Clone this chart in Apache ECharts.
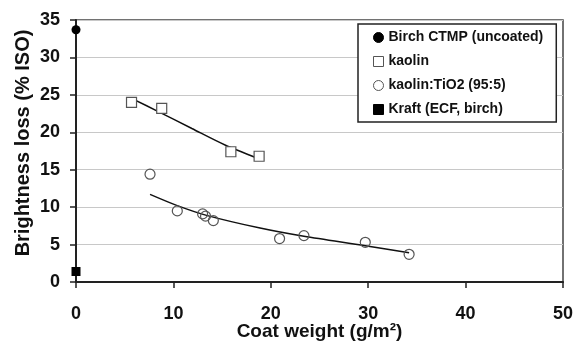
<!DOCTYPE html>
<html lang="en">
<head>
<meta charset="UTF-8">
<title>Brightness loss</title>
<script src="https://cdn.jsdelivr.net/npm/echarts@6/dist/echarts.min.js"></script>
<style>
  html, body { margin: 0; padding: 0; background: #fff; }
</style>
</head>
<body>
<div id="chart" style="width:575px;height:343px;"></div>
<script>
// values
var ctmpX = [0], ctmpY = [33.7];
var kaolinX = [5.7, 8.8, 15.9, 18.8];
var kaolinY = [24.0, 23.2, 17.4, 16.8];
var tio2X = [7.6, 10.4, 13.0, 13.3, 14.1, 20.9, 23.4, 29.7, 34.2];
var tio2Y = [14.4, 9.5, 9.1, 8.8, 8.2, 5.8, 6.2, 5.3, 3.7];
var kraftX = [0], kraftY = [1.4];
// trend curves, points
var kaolinFitX = [5.75, 8.4, 11.9, 15.3, 18.7];
var kaolinFitY = [24.5, 22.8, 20.5, 18.3, 16.5];
var tio2FitX = [7.6, 10.4, 13.4, 18.9, 23.4, 29.7, 34.2];
var tio2FitY = [11.7, 10.2, 8.9, 7.2, 6.1, 4.85, 3.9];
var names = ['Birch CTMP (uncoated)', 'kaolin', 'kaolin:TiO2 (95:5)', 'Kraft (ECF, birch)'];

function pairs(xs, ys) {
  var out = [];
  for (var i = 0; i < xs.length; i++) out.push([xs[i], ys[i]]);
  return out;
}

var font = 'Liberation Sans, Arial, sans-serif';
var chart = echarts.init(document.getElementById('chart'));
chart.setOption({
  animation: false,
  textStyle: { fontFamily: font },
  grid: {
    left: 76, right: 12, top: 20, bottom: 61,
    outerBoundsMode: 'none',
    show: true, borderColor: '#444', borderWidth: 1.5
  },
  legend: {
    data: names,
    orient: 'vertical',
    left: 358, top: 24,
    padding: [5, 13, 4, 15],
    itemGap: 7,
    itemWidth: 10, itemHeight: 10,
    itemStyle: { borderWidth: 1 },
    borderColor: '#222', borderWidth: 1.5,
    backgroundColor: '#fff',
    textStyle: { fontFamily: font, fontSize: 14, fontWeight: 'bold', color: '#111', lineHeight: 17 }
  },
  xAxis: {
    type: 'value', min: 0, max: 50, interval: 10,
    name: 'Coat weight (g/m²)', nameLocation: 'middle', nameGap: 40,
    nameMoveOverlap: false,
    nameTextStyle: { fontFamily: font, fontSize: 19, fontWeight: 'bold', color: '#111' },
    axisLine: { lineStyle: { color: '#222', width: 2 } },
    axisTick: { length: 6, lineStyle: { color: '#222', width: 1.5 } },
    axisLabel: { margin: 23, fontFamily: font, fontSize: 18, fontWeight: 'bold', color: '#111' },
    splitLine: { show: false }
  },
  yAxis: {
    type: 'value', min: 0, max: 35, interval: 5,
    name: 'Brightness loss (% ISO)', nameLocation: 'middle', nameGap: 43,
    nameMoveOverlap: false,
    nameTextStyle: { fontFamily: font, fontSize: 20, fontWeight: 'bold', color: '#111', padding: [0, 0, 0, 16] },
    axisLine: { lineStyle: { color: '#222', width: 2 } },
    axisTick: { length: 6, lineStyle: { color: '#222', width: 1.5 } },
    axisLabel: { margin: 16, fontFamily: font, fontSize: 18, fontWeight: 'bold', color: '#111' },
    splitLine: { lineStyle: { color: '#c8c8c8', width: 1 } }
  },
  series: [
    {
      name: 'kaolin fit', type: 'line', smooth: 0.3, showSymbol: false,
      lineStyle: { color: '#111', width: 1.5 }, z: 1,
      data: pairs(kaolinFitX, kaolinFitY)
    },
    {
      name: 'tio2 fit', type: 'line', smooth: 0.3, showSymbol: false,
      lineStyle: { color: '#111', width: 1.5 }, z: 1,
      data: pairs(tio2FitX, tio2FitY)
    },
    {
      name: names[0], type: 'scatter', symbol: 'circle', symbolSize: 9, clip: false,
      itemStyle: { color: '#000', borderColor: '#000', borderWidth: 0, opacity: 1 },
      data: pairs(ctmpX, ctmpY), z: 3
    },
    {
      name: names[1], type: 'scatter', symbol: 'rect', symbolSize: 10,
      itemStyle: { color: '#fff', borderColor: '#555', borderWidth: 1.2, opacity: 1 },
      data: pairs(kaolinX, kaolinY), z: 3
    },
    {
      name: names[2], type: 'scatter', symbol: 'circle', symbolSize: 10,
      itemStyle: { color: 'rgba(255,255,255,0)', borderColor: '#555', borderWidth: 1.2, opacity: 1 },
      data: pairs(tio2X, tio2Y), z: 3
    },
    {
      name: names[3], type: 'scatter', symbol: 'rect', symbolSize: 9, clip: false,
      itemStyle: { color: '#000', borderColor: '#000', borderWidth: 0, opacity: 1 },
      data: pairs(kraftX, kraftY), z: 3
    }
  ]
});
</script>
</body>
</html>
